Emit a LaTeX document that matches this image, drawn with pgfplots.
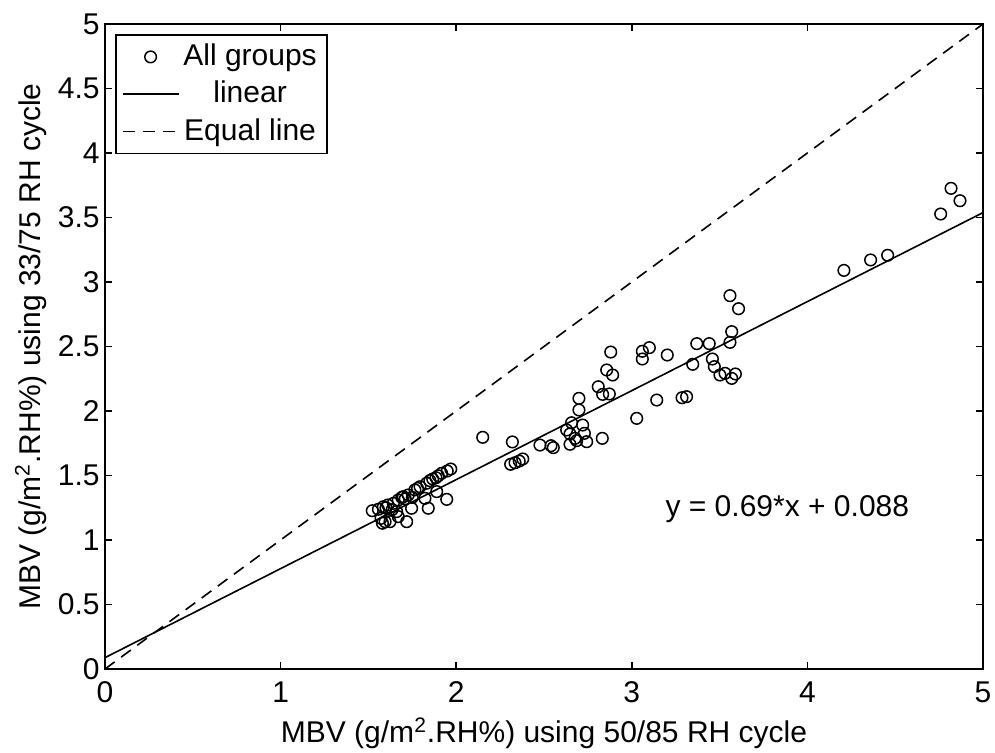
\documentclass[border=0pt]{standalone}
\usepackage{fontspec}
\setmainfont{Liberation Sans}
\usepackage{pgfplots}
\usepackage{pgfplotstable}
\pgfplotsset{compat=1.18}
\pgfplotstableread{
x y
1.522 1.227
1.557 1.238
1.585 1.258
1.610 1.271
1.642 1.284
1.670 1.310
1.699 1.336
1.727 1.349
1.765 1.388
1.794 1.413
1.832 1.440
1.866 1.473
1.885 1.483
1.898 1.498
1.917 1.517
1.949 1.535
1.969 1.550
1.822 1.323
1.841 1.246
1.746 1.246
1.718 1.142
1.670 1.181
1.661 1.220
1.623 1.142
1.595 1.142
1.572 1.168
1.889 1.375
1.946 1.315
1.600 1.250
1.635 1.235
1.690 1.330
1.710 1.320
1.750 1.330
1.780 1.400
1.850 1.460
1.580 1.130
2.151 1.796
2.320 1.760
2.477 1.736
2.540 1.731
2.553 1.716
2.310 1.587
2.335 1.599
2.359 1.612
2.379 1.628
2.657 1.909
2.629 1.853
2.720 1.891
2.648 1.822
2.730 1.827
2.677 1.788
2.686 1.770
2.648 1.742
2.743 1.762
2.832 1.788
2.699 2.098
2.699 2.008
2.809 2.188
2.834 2.129
2.872 2.132
2.857 2.318
2.891 2.279
2.880 2.457
3.060 2.463
3.100 2.491
3.060 2.403
3.142 2.085
3.286 2.103
3.312 2.111
3.028 1.943
3.202 2.434
3.347 2.362
3.370 2.522
3.441 2.522
3.459 2.403
3.470 2.344
3.502 2.279
3.531 2.292
3.569 2.253
3.590 2.287
3.559 2.532
3.569 2.615
3.559 2.894
3.608 2.793
4.208 3.090
4.360 3.171
4.457 3.207
4.759 3.527
4.818 3.726
4.869 3.630
}\datatable
\begin{document}
\fontsize{15bp}{17bp}\selectfont
\begin{tikzpicture}
\begin{axis}[
  scale only axis,
  width=439bp, height=322.5bp,
  xmin=0, xmax=5, ymin=0, ymax=5,
  xtick={0,1,2,3,4,5},
  ytick={0,0.5,1,1.5,2,2.5,3,3.5,4,4.5,5},
  tick align=inside,
  major tick length=3.5bp,
  axis line style={line width=0.9bp},
  every tick/.style={black, line width=0.9bp},
  /pgf/number format/assume math mode=true,
  ticklabel style={font=\fontsize{15bp}{17bp}\selectfont, inner sep=2.5bp},
  xticklabel style={yshift=-3.5bp},
  xlabel={MBV (g/m\textsuperscript{2}.RH\%) using 50/85 RH cycle},
  ylabel={MBV (g/m\textsuperscript{2}.RH\%) using 33/75 RH cycle},
  label style={font=\fontsize{15bp}{17bp}\selectfont},
  every axis x label/.style={at={(axis description cs:0.5,-0.1147)}, anchor=base},
  every axis y label/.style={at={(axis description cs:-0.0740,0.5)}, anchor=base, rotate=90},
  legend style={at={(axis description cs:0,1)}, anchor=north west,
    xshift=5bp, yshift=-5bp, draw=black, line width=0.8bp,
    inner xsep=3bp, inner ysep=2.5bp, row sep=1.5bp,
    font=\fontsize{15bp}{17bp}\selectfont,
    nodes={inner sep=2bp}},
  legend cell align=center,
  legend image code/.code={\draw[mark repeat=2,mark phase=2,#1] plot coordinates {(0bp,0bp) (14bp,0bp) (28bp,0bp)};},
]
\addplot[only marks, mark=o, mark size=2.9bp, mark options={line width=0.75bp, solid}, black] table[x=x,y=y] {\datatable};
\addlegendentry{All groups}
\addplot[black, line width=0.8bp] coordinates {(0,0.088) (5,3.538)};
\addlegendentry{linear}
\addplot[black, line width=0.8bp, dash pattern=on 6bp off 4bp] coordinates {(0,0) (5,5)};
\addlegendentry{Equal line}
\node[anchor=base west, font=\fontsize{15bp}{17bp}\selectfont, inner sep=0pt] at (axis cs:3.19,1.18) {y = 0.69*x + 0.088};
\end{axis}
\pgfresetboundingbox
\path[use as bounding box] ([shift={(-52.5bp,-42bp)}]current axis.south west) rectangle ([shift={(6bp,12bp)}]current axis.north east);
\end{tikzpicture}
\end{document}
